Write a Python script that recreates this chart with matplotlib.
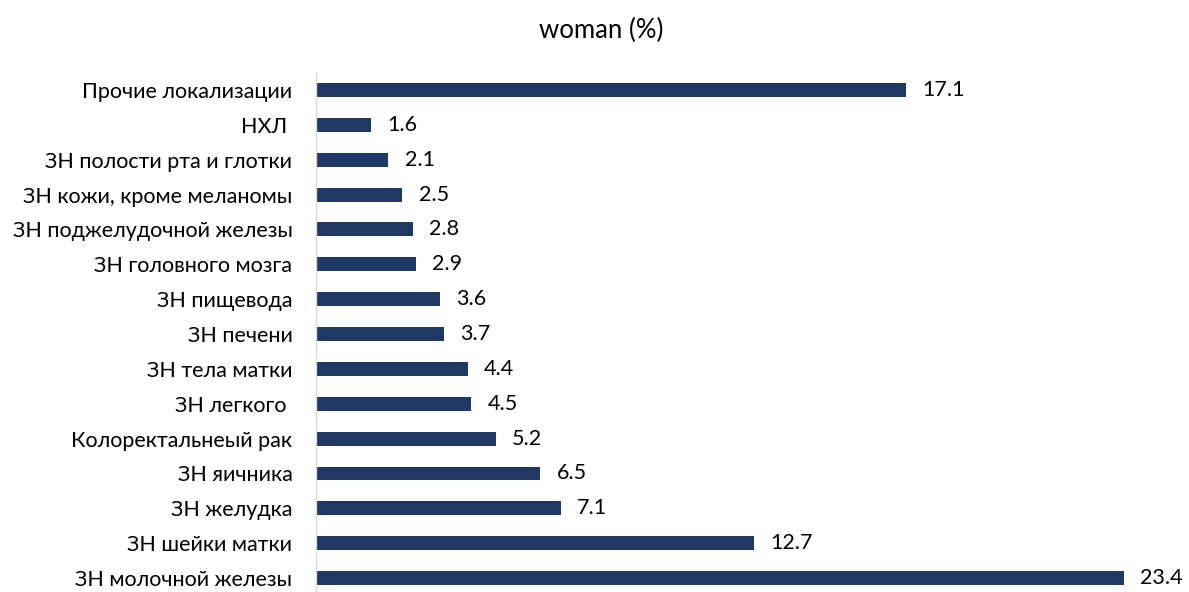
import matplotlib
matplotlib.use("Agg")
import matplotlib.pyplot as plt

categories = [
    "ЗН молочной железы",
    "ЗН шейки матки",
    "ЗН желудка",
    "ЗН яичника",
    "Колоректальнеый рак",
    "ЗН легкого ",
    "ЗН тела матки",
    "ЗН печени",
    "ЗН пищевода",
    "ЗН головного мозга",
    "ЗН поджелудочной железы",
    "ЗН кожи, кроме меланомы",
    "ЗН полости рта и глотки",
    "НХЛ ",
    "Прочие локализации",
]
values = [23.4, 12.7, 7.1, 6.5, 5.2, 4.5, 4.4, 3.7, 3.6, 2.9, 2.8, 2.5, 2.1, 1.6, 17.1]

plt.rcParams['font.family'] = ['Lato', 'DejaVu Sans']

W, H = 1189, 592
fig = plt.figure(figsize=(W / 100, H / 100), dpi=100)
left, right = 316 / W, 1179 / W
ax = fig.add_axes([left, 0.0, right - left, (592 - 72.6) / H])

y = list(range(len(categories)))
ax.barh(y, values, height=0.40, color="#203864", zorder=2)
for yi, v in zip(y, values):
    ax.text(v + 0.47, yi, f"{v:.1f}", va="center", ha="left", fontsize=15.5, color="#000000")

ax.set_xlim(0, 25)
ax.set_ylim(-0.40, 14.5)
ax.set_yticks(y)
ax.set_yticklabels(categories, fontsize=15.5)
ax.tick_params(axis="y", length=0, pad=17)
ax.set_xticks([])
for s in ["top", "right", "bottom"]:
    ax.spines[s].set_visible(False)
ax.spines["left"].set_color("#d9d9d9")
ax.spines["left"].set_linewidth(1.0)

fig.text(601 / W, 1 - 30 / H, "woman (%)", ha="center", va="center", fontsize=18.5)

fig.savefig("out.png", dpi=100)
